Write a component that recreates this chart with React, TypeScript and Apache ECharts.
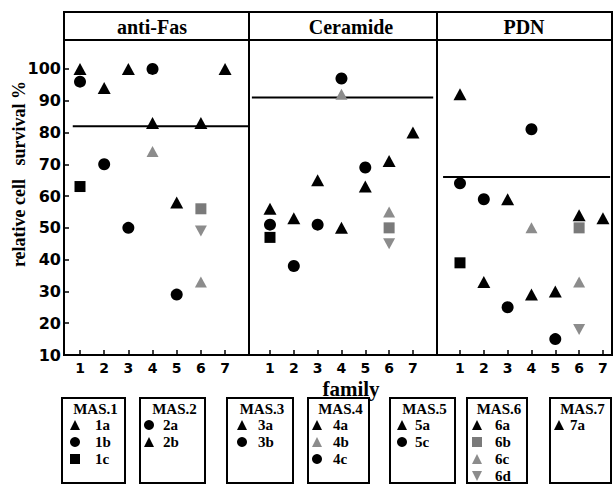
import React, { useEffect, useRef } from 'react';
import * as echarts from 'echarts';

// ---- data ----
const panelTitles = ['anti-Fas', 'Ceramide', 'PDN'];
const sampleCodes = ['1a', '1b', '1c', '2a', '2b', '3a', '3b', '4a', '4b', '4c', '5a', '5c', '6a', '6b', '6c', '6d', '7a'];
const sampleMarkers = ['tri', 'cir', 'sq', 'cir', 'tri', 'tri', 'cir', 'tri', 'gtri', 'cir', 'tri', 'cir', 'tri', 'gsq', 'gtri', 'gdown', 'tri'];
const antiFasValues = [100, 96, 63, 70, 94, 100, 50, 83, 74, 100, 58, 29, 83, 56, 33, 49, 100];
const ceramideValues = [56, 51, 47, 38, 53, 65, 51, 50, 92, 97, 63, 69, 71, 50, 55, 45, 80];
const pdnValues = [92, 64, 39, 59, 33, 59, 25, 29, 50, 81, 30, 15, 54, 50, 33, 18, 53];
const referenceLevels = [82, 91, 66];
const familyTicks = [1, 2, 3, 4, 5, 6, 7];
const legendTitles = ['MAS.1', 'MAS.2', 'MAS.3', 'MAS.4', 'MAS.5', 'MAS.6', 'MAS.7'];
const legendGroups = [
  ['1a', '1b', '1c'],
  ['2a', '2b'],
  ['3a', '3b'],
  ['4a', '4b', '4c'],
  ['5a', '5c'],
  ['6a', '6b', '6c', '6d'],
  ['7a'],
];

// ---- layout / style ----
const SERIF = "'Liberation Serif', 'Times New Roman', serif";
const SANS = "'DejaVu Sans', sans-serif";
const gridLeft = [64, 249, 437];
const gridWidth = [185, 188, 175];
const xMin = [0.338, 0.119, 0.035];
const xMax = [7.99, 8.01, 7.38];
const lineStart = [0.7, 0.24, 0.29];
const lineEnd = [8.1, 7.85, 7.3];
const titleCenters = [152, 351, 524];
const boxLeft = [62, 140, 227, 308, 390, 467, 550];
const boxRight = [125, 205, 293, 369, 455, 527, 611];
const markerOffset = [13, 9, 15, 9, 12, 10, 9];
const labelOffset = [33, 23, 31, 25, 25, 28, 20];

const markerStyles: Record<string, any> = {
  tri: { symbol: 'triangle', size: [13, 12], color: '#000', rotate: 0 },
  cir: { symbol: 'circle', size: 12, color: '#000', rotate: 0 },
  sq: { symbol: 'rect', size: 11, color: '#000', rotate: 0 },
  gtri: { symbol: 'triangle', size: [12, 11], color: '#8c8c8c', rotate: 0 },
  gsq: { symbol: 'rect', size: 11, color: '#7a7a7a', rotate: 0 },
  gdown: { symbol: 'triangle', size: [12, 11], color: '#8c8c8c', rotate: 180 },
};

function legendGlyph(kind: string, cx: number, cy: number) {
  const st = markerStyles[kind];
  const s = 10;
  if (st.symbol === 'circle') {
    return { type: 'circle', shape: { cx, cy, r: s / 2 }, style: { fill: st.color } };
  }
  if (st.symbol === 'rect') {
    return { type: 'rect', shape: { x: cx - s / 2, y: cy - s / 2, width: s, height: s }, style: { fill: st.color } };
  }
  const pts = st.rotate === 180
    ? [[cx - s / 2, cy - s / 2], [cx + s / 2, cy - s / 2], [cx, cy + s / 2]]
    : [[cx, cy - s / 2], [cx + s / 2, cy + s / 2], [cx - s / 2, cy + s / 2]];
  return { type: 'polygon', shape: { points: pts }, style: { fill: st.color } };
}

export default function App() {
  const ref = useRef<HTMLDivElement>(null);

  useEffect(() => {
    if (!ref.current) return;
    const chart = echarts.init(ref.current, undefined, { renderer: 'svg' });
    const panelValues = [antiFasValues, ceramideValues, pdnValues];

    const grids = gridLeft.map((l, i) => ({
      left: l, top: 40, width: gridWidth[i], height: 315,
      show: true, borderColor: '#000', borderWidth: 2, backgroundColor: 'transparent',
    }));

    const xAxes = gridLeft.map((_, i) => ({
      type: 'value', gridIndex: i, min: xMin[i], max: xMax[i],
      axisLine: { show: false },
      splitLine: { show: false },
      axisTick: { show: true, inside: true, length: 5, customValues: familyTicks, lineStyle: { color: '#000', width: 1.5 } },
      axisLabel: {
        show: true, customValues: familyTicks, margin: 6,
        fontFamily: SANS, fontWeight: 'bold', fontSize: 14, color: '#000',
      },
    }));

    const yAxes = gridLeft.map((_, i) => ({
      type: 'value', gridIndex: i, min: 10, max: 109.1, interval: 10,
      axisLine: { show: false },
      splitLine: { show: false },
      axisTick: { show: i === 0, inside: true, length: 5, lineStyle: { color: '#000', width: 1.5 } },
      axisLabel: {
        show: i === 0, showMaxLabel: false, margin: 3,
        fontFamily: SANS, fontWeight: 'bold', fontSize: 16, color: '#000',
        formatter: (v: number) => (v > 100 ? '' : String(v)),
      },
    }));

    const series: any[] = [];
    panelValues.forEach((vals, p) => {
      series.push({
        type: 'line', xAxisIndex: p, yAxisIndex: p, silent: true,
        data: [[lineStart[p], referenceLevels[p]], [lineEnd[p], referenceLevels[p]]],
        symbol: 'none', lineStyle: { color: '#000', width: 2 }, z: 2, clip: true,
      });
      Object.keys(markerStyles).forEach((key) => {
        const st = markerStyles[key];
        const data: number[][] = [];
        sampleCodes.forEach((c, i) => {
          if (sampleMarkers[i] === key) data.push([parseInt(c, 10), vals[i]]);
        });
        if (!data.length) return;
        series.push({
          type: 'scatter', xAxisIndex: p, yAxisIndex: p, silent: true, data,
          symbol: st.symbol, symbolSize: st.size, symbolRotate: st.rotate,
          itemStyle: { color: st.color, opacity: 1 }, z: 3,
        });
      });
    });

    const graphics: any[] = [];
    // title strips
    gridLeft.forEach((l, i) => {
      graphics.push({
        type: 'rect', shape: { x: l, y: 12, width: gridWidth[i], height: 28 },
        style: { fill: '#fff', stroke: '#000', lineWidth: 2 },
      });
      graphics.push({
        type: 'text', x: titleCenters[i], y: 27,
        style: {
          text: panelTitles[i], font: `bold 20px ${SERIF}`, fill: '#000',
          textAlign: 'center', textVerticalAlign: 'middle',
        },
      });
    });
    // y axis name
    graphics.push({
      type: 'text', x: 19, y: 174, rotation: Math.PI / 2,
      style: {
        text: 'relative cell   survival %', font: `bold 18px ${SERIF}`, fill: '#000',
        textAlign: 'center', textVerticalAlign: 'middle',
      },
    });
    // legend boxes
    legendTitles.forEach((t, b) => {
      const l = boxLeft[b];
      const w = boxRight[b] - l;
      graphics.push({
        type: 'rect', shape: { x: l, y: 398, width: w, height: 85 },
        style: { fill: '#fff', stroke: '#000', lineWidth: 2 },
      });
      graphics.push({
        type: 'text', x: l + w / 2 + 2, y: 409,
        style: { text: t, font: `bold 15px ${SERIF}`, fill: '#000', textAlign: 'center', textVerticalAlign: 'middle' },
      });
      legendGroups[b].forEach((code, k) => {
        const cy = 425 + k * 17;
        const kind = sampleMarkers[sampleCodes.indexOf(code)];
        graphics.push(legendGlyph(kind, l + markerOffset[b], cy));
        graphics.push({
          type: 'text', x: l + labelOffset[b], y: cy,
          style: { text: code, font: `bold 15px ${SERIF}`, fill: '#000', textAlign: 'left', textVerticalAlign: 'middle' },
        });
      });
    });
    // x axis name
    graphics.push({
      type: 'text', x: 351, y: 389, z: 100,
      style: { text: 'family', font: `bold 21px ${SERIF}`, fill: '#000', textAlign: 'center', textVerticalAlign: 'middle' },
    });

    chart.setOption({
      animation: false,
      backgroundColor: '#fff',
      grid: grids,
      xAxis: xAxes,
      yAxis: yAxes,
      series,
      graphic: graphics,
    });
    return () => chart.dispose();
  }, []);

  return <div ref={ref} style={{ position: 'absolute', left: 0, top: 0, width: 613, height: 485 }} />;
}
